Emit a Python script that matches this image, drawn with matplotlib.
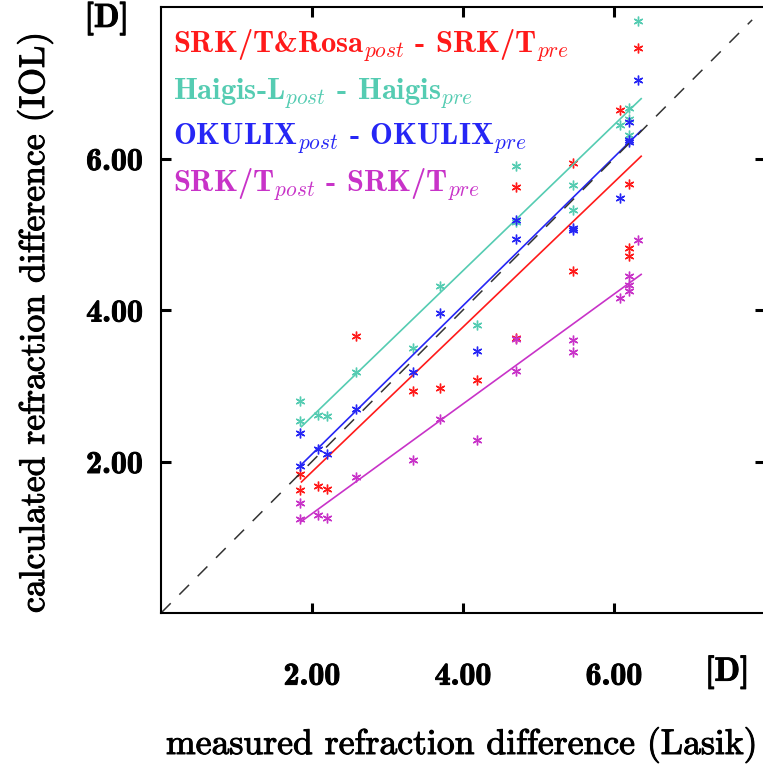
import numpy as np
import matplotlib
matplotlib.use('Agg')
import matplotlib.pyplot as plt
import matplotlib.patheffects as pe

plt.rcParams['mathtext.fontset'] = 'cm'
plt.rcParams['font.family'] = 'cmr10'
plt.rcParams['axes.unicode_minus'] = False

# measured refraction difference (Lasik), one value per eye
measured = [1.84, 1.84, 2.08, 2.20, 2.58, 3.34, 3.70, 4.19, 4.70, 4.70,
            5.46, 5.46, 6.08, 6.20, 6.20, 6.20, 6.32]

# calculated refraction difference (IOL) per formula
rosa = [1.84, 1.63, 1.67, 1.64, 3.66, 2.93, 2.97, 3.08, 5.62, 3.63,
        5.94, 4.52, 6.64, 5.66, 4.82, 4.71, 7.46]
haigis = [2.80, 2.53, 2.62, 2.60, 3.18, 3.50, 4.32, 3.80, 5.90, 5.16,
          5.65, 5.32, 6.44, 6.67, 6.52, 6.31, 7.81]
okulix = [2.38, 1.94, 2.17, 2.10, 2.69, 3.18, 3.96, 3.46, 5.19, 4.94,
          5.08, 5.05, 5.48, 6.48, 6.22, 6.25, 7.04]
srkt = [1.45, 1.24, 1.30, 1.25, 1.80, 2.02, 2.56, 2.28, 3.62, 3.20,
        3.60, 3.44, 4.16, 4.45, 4.33, 4.25, 4.92]

# regression lines (start / end values)
fit_x = [1.86, 6.36]
rosa_fit = [1.73, 6.03]
haigis_fit = [2.46, 6.79]
okulix_fit = [1.96, 6.37]
srkt_fit = [1.21, 4.47]

labels = ['SRK/T&Rosa$_{post}$ - SRK/T$_{pre}$',
          'Haigis-L$_{post}$ - Haigis$_{pre}$',
          'OKULIX$_{post}$ - OKULIX$_{pre}$',
          'SRK/T$_{post}$ - SRK/T$_{pre}$']
colors = ['#ff1a1a', '#55ccb2', '#2626f5', '#c833c8']
ticks = [2, 4, 6]

fig = plt.figure(figsize=(7.63, 7.65), dpi=100)
ax = fig.add_axes([161 / 763, 152 / 765, 604 / 763, 606 / 765])

series = [(rosa, rosa_fit), (haigis, haigis_fit), (okulix, okulix_fit), (srkt, srkt_fit)]
for (vals, fit), col in zip(series, colors):
    ax.plot(measured, vals, linestyle='none', marker=(6, 2, 0), ms=7, mew=1.0,
            color=col, mec=col)
    ax.plot(fit_x, fit, color=col, lw=1.2)

ax.plot([0, 7.83], [0, 7.83], color='#333333', lw=1.1, dashes=(9, 8))

bold = [pe.withStroke(linewidth=0.7, foreground='black')]

ax.set_xlim(0, 8)
ax.set_ylim(0, 8)
ax.set_xticks(ticks)
ax.set_yticks(ticks)
ax.set_xticklabels(['%.2f' % t for t in ticks], fontfamily='cmb10', fontsize=23)
ax.set_yticklabels(['%.2f' % t for t in ticks], fontfamily='cmb10', fontsize=23)
for t in ax.get_xticklabels() + ax.get_yticklabels():
    t.set_path_effects(bold)
ax.tick_params(direction='in', length=7, width=2.2, top=True, right=True)
ax.tick_params(axis='x', pad=35)
ax.tick_params(axis='y', pad=13)
for sp in ax.spines.values():
    sp.set_linewidth(1.5)

# unit labels
ax.text(7.5, -0.78, '[D]', fontfamily='cmb10', fontsize=24, ha='center', va='center',
        path_effects=bold)
ax.text(-0.72, 7.85, '[D]', fontfamily='cmb10', fontsize=24, ha='center', va='center',
        path_effects=bold)

# key
key_y = [52.7, 100, 145, 191.7]
for lab, col, py in zip(labels, colors, key_y):
    ax.text(0.16, (613 - py) / 75.6, lab, color=col, fontfamily='cmb10', fontsize=22,
            ha='left', va='baseline')

fig.text(461 / 763, 1 - 745 / 765, 'measured refraction difference (Lasik)',
         fontsize=25.7, ha='center', va='center', path_effects=bold)
fig.text(35 / 763, 1 - 323 / 765, 'calculated refraction difference (IOL)',
         fontsize=25.7, ha='center', va='center', rotation=90, path_effects=bold)

fig.savefig('out.png', dpi=100)
